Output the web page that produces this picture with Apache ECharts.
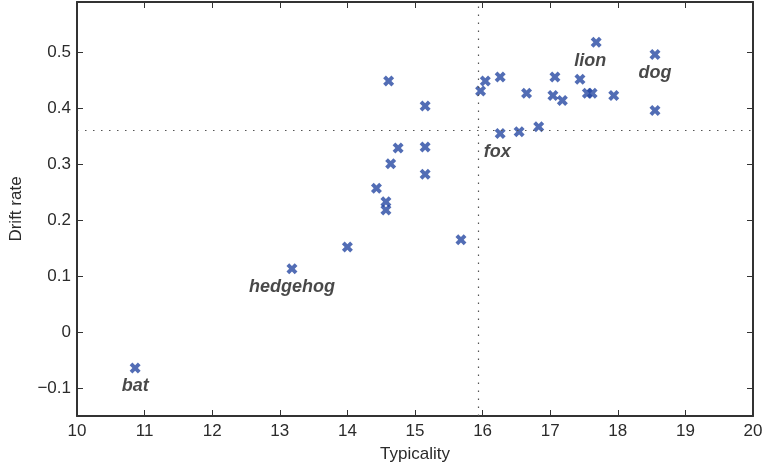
<!DOCTYPE html>
<html>
<head>
<meta charset="utf-8">
<script src="https://cdn.jsdelivr.net/npm/echarts@6/dist/echarts.min.js"></script>
<style>
    html, body { margin: 0; padding: 0; background: #fff; }
    #chart { width: 767px; height: 471px; }
</style>
</head>
<body>
<div id="chart"></div>
<script>

const typicality = [
    10.86, 13.18, 14.00, 14.43, 14.57, 14.57, 14.64, 14.61, 14.75, 15.15,
    15.15, 15.15, 15.68, 15.97, 16.04, 16.26, 16.26, 16.54, 16.65, 16.83,
    17.04, 17.07, 17.18, 17.44, 17.55, 17.62, 17.68, 17.94, 18.55, 18.55
];
const driftRate = [
    -0.064, 0.113, 0.152, 0.257, 0.233, 0.218, 0.301, 0.449, 0.329, 0.404,
    0.331, 0.282, 0.165, 0.431, 0.449, 0.456, 0.355, 0.358, 0.427, 0.367,
    0.423, 0.456, 0.414, 0.452, 0.427, 0.427, 0.518, 0.423, 0.496, 0.396
];
const names = [
    'bat', 'hedgehog', '', '', '', '', '', '', '', '',
    '', '', '', '', '', '', 'fox', '', '', '',
    '', '', '', '', '', '', 'lion', '', 'dog', ''
];
const yTicks = [-0.1, 0, 0.1, 0.2, 0.3, 0.4, 0.5];
const meanTypicality = 15.93;
const meanDrift = 0.358;

const chart = echarts.init(document.getElementById('chart'));

const FONT = '"Liberation Sans", Arial, sans-serif';
const labelShift = { fox: [-3, 0], lion: [-6, 0] };

// thick "x" marker
const xMark = 'path://M0,2.5 L2.5,0 L5,2.5 L7.5,0 L10,2.5 L7.5,5 L10,7.5 L7.5,10 L5,7.5 L2.5,10 L0,7.5 L2.5,5 Z';

const points = typicality.map((x, i) => {
    const item = { value: [x, driftRate[i]], name: names[i] };
    if (names[i]) {
        item.label = {
            show: true,
            formatter: names[i],
            position: 'bottom',
            distance: 4,
            offset: labelShift[names[i]] || [0, 0]
        };
    }
    return item;
});

const tickStyle = { inside: true, length: 6, lineStyle: { color: '#333', width: 1 } };
const lineStyle = { lineStyle: { color: '#333', width: 2 } };
const tickFont = { fontFamily: FONT, fontSize: 17, color: '#2b2b2b' };

const option = {
    animation: false,
    grid: { left: 77, right: 14, top: 2, bottom: 55 },
    xAxis: [
        {
            type: 'value',
            min: 10,
            max: 20,
            interval: 1,
            name: 'Typicality',
            nameLocation: 'middle',
            nameGap: 30,
            nameTextStyle: { fontFamily: FONT, fontSize: 17, color: '#2b2b2b' },
            axisLine: { onZero: false, ...lineStyle },
            axisTick: tickStyle,
            axisLabel: { ...tickFont, margin: 7 },
            splitLine: { show: false }
        },
        {
            type: 'value',
            position: 'top',
            min: 10,
            max: 20,
            interval: 1,
            axisLine: { onZero: false, ...lineStyle },
            axisTick: tickStyle,
            axisLabel: { show: false },
            splitLine: { show: false }
        }
    ],
    yAxis: [
        {
            type: 'value',
            min: -0.15,
            max: 0.59,
            interval: 0.05,
            name: 'Drift rate',
            nameLocation: 'middle',
            nameGap: 52,
            nameTextStyle: { fontFamily: FONT, fontSize: 17, color: '#2b2b2b' },
            axisLine: { onZero: false, ...lineStyle },
            axisTick: { ...tickStyle, customValues: yTicks },
            axisLabel: {
                ...tickFont,
                margin: 6,
                customValues: yTicks,
                formatter: v => {
                    const r = Math.round(v * 10) / 10;
                    return r === 0 ? '0' : (r < 0 ? '\u2212' + Math.abs(r).toFixed(1) : r.toFixed(1));
                }
            },
            splitLine: { show: false }
        },
        {
            type: 'value',
            position: 'right',
            min: -0.15,
            max: 0.59,
            interval: 0.05,
            axisLine: { onZero: false, ...lineStyle },
            axisTick: { ...tickStyle, customValues: yTicks },
            axisLabel: { show: false },
            splitLine: { show: false }
        }
    ],
    series: [
        {
            type: 'scatter',
            symbol: xMark,
            symbolSize: 11,
            itemStyle: { color: '#2749a3' },
            label: {
                fontFamily: FONT,
                fontSize: 18,
                fontWeight: 'bold',
                fontStyle: 'italic',
                color: '#1a1a1a'
            },
            markLine: {
                silent: true,
                symbol: 'none',
                label: { show: false },
                lineStyle: { color: '#555', width: 1.2, type: [1.5, 6.5] },
                data: [
                    { xAxis: meanTypicality },
                    { yAxis: meanDrift }
                ]
            },
            data: points,
            z: 3
        }
    ]
};

chart.setOption(option);

</script>
</body>
</html>
